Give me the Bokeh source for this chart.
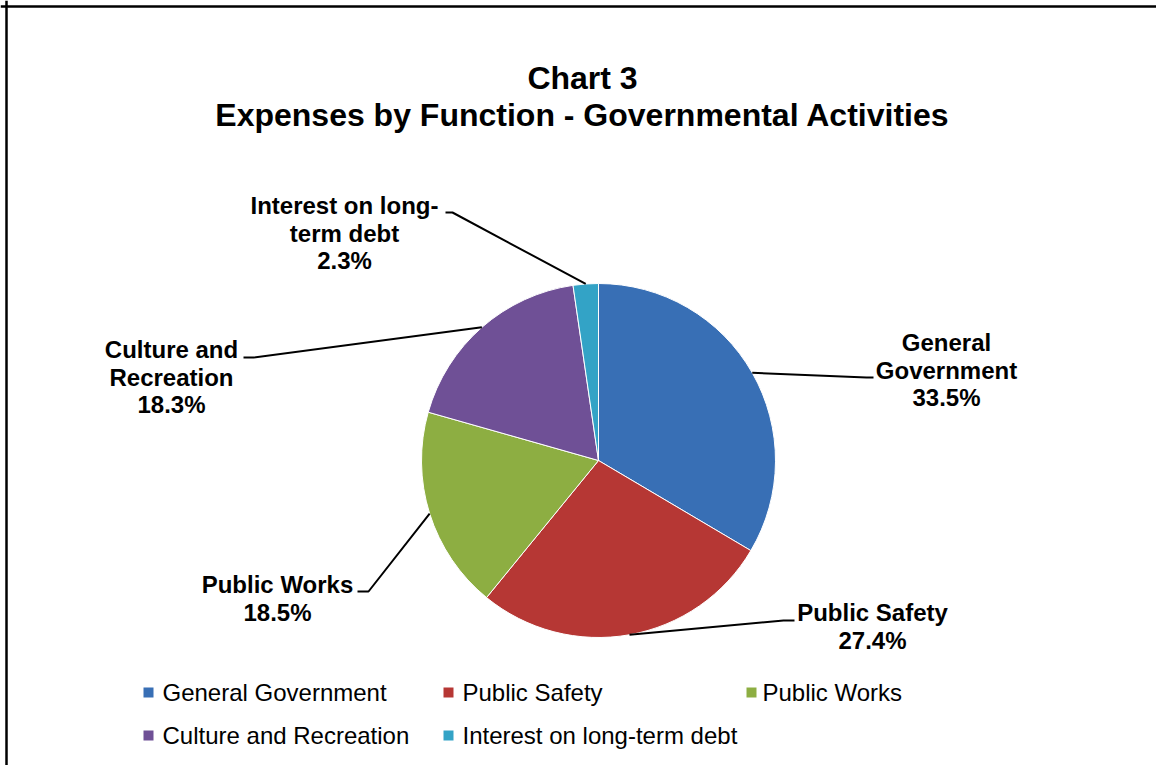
import numpy as np
from bokeh.plotting import figure
from bokeh.models import Range1d, Span
from bokeh.core.properties import value
from bokeh.embed import file_html
from bokeh.resources import INLINE

# ---------------- data ----------------
categories = ["General Government", "Public Safety", "Public Works",
              "Culture and Recreation", "Interest on long-term debt"]
shares = [33.5, 27.4, 18.5, 18.3, 2.3]
colors = ["#386FB5", "#B63734", "#8DAE42", "#6F5096", "#33A3C6"]
title_lines = ["Chart 3", "Expenses by Function - Governmental Activities"]
label_lines = [["General", "Government"], ["Public Safety"], ["Public Works"],
               ["Culture and", "Recreation"], ["Interest on long-", "term debt"]]

# ---------------- layout (page pixel coordinates) ----------------
W, H = 1156, 765
def Y(y):
    return H - y

CX, CY, R = 598, 460, 177
# per label: elbow point, end point, text centre x, first line y
label_layout = [
    ((866, 377), (873, 377), 946, 342),
    ((783, 620), (794, 620), 872, 612),
    ((368, 591), (357, 591), 277, 584),
    ((253, 357), (243, 357), 171, 349),
    ((452, 212), (445, 212), 344, 205),
]
LINE_H = 27.5
legend_rows = [692, 735]
legend_marker_x = [148, 448, 751]
legend_text_x = [162, 462, 762]

FONT = value("Liberation Sans")

p = figure(width=W, height=H, output_backend="svg", toolbar_location=None,
           x_range=Range1d(0, W), y_range=Range1d(0, H),
           min_border=0, outline_line_color=None)
p.axis.visible = False
p.grid.visible = False
p.background_fill_color = "white"
p.border_fill_color = "white"

# chart border (top and left edges visible in the page)
p.add_layout(Span(location=Y(6), dimension="width", line_color="black", line_width=2.5))
p.add_layout(Span(location=6, dimension="height", line_color="black", line_width=2.5))

# title
p.text(x=[582, 582], y=[Y(77), Y(114)], text=title_lines,
       text_font=FONT, text_font_style="bold", text_font_size="32px",
       text_align="center", text_baseline="middle", text_color="black")

# pie
frac = np.array(shares) / np.sum(shares)
cum = np.concatenate([[0.0], np.cumsum(frac)])
start = np.pi / 2 - 2 * np.pi * cum[:-1]
end = np.pi / 2 - 2 * np.pi * cum[1:]
p.wedge(x=CX, y=Y(CY), radius=R, start_angle=start, end_angle=end,
        direction="clock", fill_color=colors, line_color="white", line_width=1)

# leader lines and labels
mid = (cum[:-1] + cum[1:]) / 2 * 2 * np.pi
xs, ys = [], []
tx, ty, tt = [], [], []
for i, (elbow, endp, lx, ly) in enumerate(label_layout):
    sx = CX + R * np.sin(mid[i])
    sy = CY - R * np.cos(mid[i])
    xs.append([sx, elbow[0], endp[0]])
    ys.append([Y(sy), Y(elbow[1]), Y(endp[1])])
    lines = label_lines[i] + [f"{shares[i]:.1f}%"]
    for k, s in enumerate(lines):
        tx.append(lx)
        ty.append(Y(ly + k * LINE_H))
        tt.append(s)
p.multi_line(xs=xs, ys=ys, line_color="black", line_width=2)
p.text(x=tx, y=ty, text=tt, text_font=FONT, text_font_style="bold",
       text_font_size="24px", text_align="center", text_baseline="middle",
       text_color="black")

# legend
mx, my, lx, ly = [], [], [], []
for i, c in enumerate(categories):
    r, col = divmod(i, 3)
    mx.append(legend_marker_x[col]); my.append(Y(legend_rows[r]))
    lx.append(legend_text_x[col]); ly.append(Y(legend_rows[r]))
p.scatter(x=mx, y=my, marker="square", size=10, fill_color=colors, line_color=None)
p.text(x=lx, y=ly, text=categories, text_font=FONT, text_font_size="24px",
       text_align="left", text_baseline="middle", text_color="black")

open("out.html", "w").write(file_html(p, INLINE))
